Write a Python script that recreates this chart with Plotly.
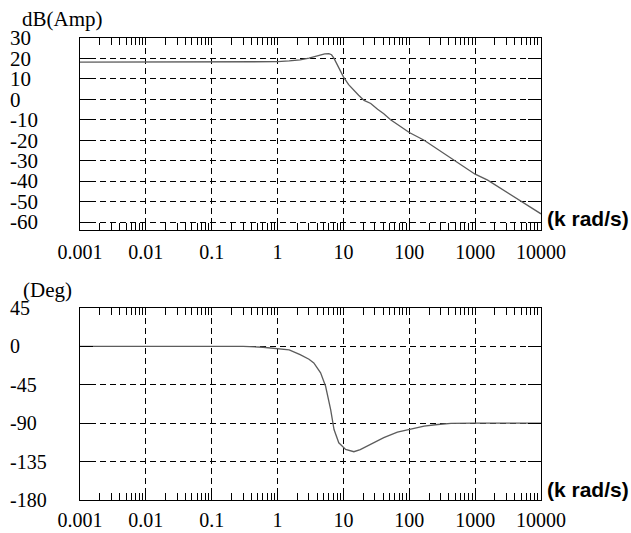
import plotly.graph_objects as go

# ---- data ----
freq_mag = [0.001, 0.01, 0.1, 0.4, 1, 1.5, 2.2, 3, 3.6, 4.5, 5.2, 6, 6.6, 7.2, 8.5,
            10, 12, 14.4, 17, 20.6, 26, 33, 41, 52, 74, 100, 168, 270, 480,
            1000, 1550, 2300, 3500, 5500, 10000]
mag_db = [18.2, 18.2, 18.2, 18.2, 18.4, 18.8, 19.3, 20.1, 20.8, 21.7, 22.2, 22.4, 21.8, 20.0, 15.5,
          11.0, 7.2, 4.3, 2.0, -0.5, -2.0, -4.8, -7.0, -10.0, -13.3, -16.2, -20.0, -24.5, -30.0,
          -36.6, -39.5, -43.0, -46.3, -50.5, -56.0]

freq_phase = [0.001, 0.01, 0.1, 0.3, 0.6, 1, 1.5, 2.2, 3, 3.55, 4.5, 5.36, 6.4, 7.2, 8.5,
              10.8, 14.4, 18, 23, 30, 41, 66, 100, 168, 270, 430, 1000, 3000, 10000]
phase_deg = [0, 0, 0, 0, -1, -2.7, -4, -9.7, -15, -19.4, -31, -46.7, -74, -97.4, -113,
             -120.7, -123.4, -121, -116.8, -112, -107, -100.5, -97.3, -93.4, -91.5, -90.3, -90, -90, -90]

x_tick_vals = [0.001, 0.01, 0.1, 1, 10, 100, 1000, 10000]
x_tick_text = ["0.001", "0.01", "0.1", "1", "10", "100", "1000", "10000"]
x_minor_vals = [m * 10.0 ** k for k in range(-3, 4) for m in range(2, 10)]

mag_tick_vals = [30, 20, 10, 0, -10, -20, -30, -40, -50, -60]
mag_tick_text = ["30", "20", "10", "0", "-10", "-20", "-30", "-40", "-50", "-60"]
phase_tick_vals = [45, 0, -45, -90, -135, -180]
phase_tick_text = ["45", "0", "-45", "-90", "-135", "-180"]

mag_range = [-63.9, 30]
phase_range = [-180, 45]

# ---- layout geometry ----
W, H = 631, 533
x_dom = [80 / W, 541 / W]
top_dom = [(H - 230) / H, (H - 38) / H]
bot_dom = [(H - 500) / H, (H - 308) / H]

SERIF = "Liberation Serif, Times New Roman, serif"
SANS = "Liberation Sans, Arial, sans-serif"
LINE = dict(color="#5c5c5c", width=1.3)

fig = go.Figure()
fig.add_trace(go.Scatter(x=freq_mag, y=mag_db, xaxis="x", yaxis="y",
                         mode="lines", line=LINE, showlegend=False))
fig.add_trace(go.Scatter(x=freq_phase, y=phase_deg, xaxis="x2", yaxis="y2",
                         mode="lines", line=LINE, showlegend=False))
# invisible companions so the label-only axes get drawn
fig.add_trace(go.Scatter(x=freq_mag, y=mag_db, xaxis="x", yaxis="y3",
                         mode="lines", opacity=0, hoverinfo="skip", showlegend=False))
fig.add_trace(go.Scatter(x=freq_phase, y=phase_deg, xaxis="x2", yaxis="y4",
                         mode="lines", opacity=0, hoverinfo="skip", showlegend=False))


def xaxis_cfg(anchor, standoff):
    return dict(
        type="log", range=[-3, 4], domain=x_dom, anchor=anchor,
        showline=True, linecolor="black", linewidth=1, mirror="ticks",
        ticks="inside", ticklen=7, tickcolor="black", tickwidth=1,
        tickmode="array", tickvals=x_tick_vals, ticktext=x_tick_text,
        tickfont=dict(family=SERIF, size=20, color="black"),
        ticklabelstandoff=standoff,
        showgrid=True, gridcolor="black", gridwidth=1, griddash="6px,4px",
        minor=dict(tickmode="array", tickvals=x_minor_vals, ticks="inside",
                   ticklen=7, tickcolor="black", tickwidth=1, showgrid=False),
        zeroline=False, automargin=False, fixedrange=True,
    )


def yaxis_cfg(anchor, dom, rng, vals):
    return dict(
        range=rng, domain=dom, anchor=anchor,
        showline=True, linecolor="black", linewidth=1, mirror="ticks",
        ticks="inside", ticklen=13, tickcolor="black", tickwidth=1,
        tickmode="array", tickvals=vals, showticklabels=False,
        showgrid=True, gridcolor="black", gridwidth=1, griddash="6px,4px",
        zeroline=False, automargin=False, fixedrange=True,
    )


def label_axis_cfg(over, rng, vals, text, size):
    return dict(
        overlaying=over, anchor="free", position=0, side="left", range=rng,
        tickmode="array", tickvals=vals, ticktext=text,
        ticklabelposition="inside", ticklabeloverflow="allow",
        ticklabelstandoff=6,
        tickfont=dict(family=SERIF, size=size, color="black"),
        showline=False, showgrid=False, ticks="", zeroline=False,
        automargin=False, fixedrange=True,
    )


fig.update_layout(
    width=W, height=H,
    margin=dict(l=0, r=0, t=0, b=0),
    paper_bgcolor="white", plot_bgcolor="white",
    xaxis=xaxis_cfg("y", 4),
    xaxis2=xaxis_cfg("y2", 2),
    yaxis=yaxis_cfg("x", top_dom, mag_range, mag_tick_vals),
    yaxis2=yaxis_cfg("x2", bot_dom, phase_range, phase_tick_vals),
    yaxis3=label_axis_cfg("y", mag_range, mag_tick_vals, mag_tick_text, 21),
    yaxis4=label_axis_cfg("y2", phase_range, phase_tick_vals, phase_tick_text, 20),
    showlegend=False,
    annotations=[
        dict(text="dB(Amp)", xref="paper", yref="paper", x=62 / W, y=(H - 19) / H,
             xanchor="center", yanchor="middle", showarrow=False,
             font=dict(family=SERIF, size=21, color="black")),
        dict(text="(Deg)", xref="paper", yref="paper", x=47 / W, y=(H - 290) / H,
             xanchor="center", yanchor="middle", showarrow=False,
             font=dict(family=SERIF, size=21, color="black")),
        dict(text="<b>(k rad/s)</b>", xref="paper", yref="paper", x=545 / W, y=(H - 218) / H,
             xanchor="left", yanchor="middle", showarrow=False,
             font=dict(family=SANS, size=21, color="black")),
        dict(text="<b>(k rad/s)</b>", xref="paper", yref="paper", x=545 / W, y=(H - 489) / H,
             xanchor="left", yanchor="middle", showarrow=False,
             font=dict(family=SANS, size=21, color="black")),
    ],
)

fig.write_html(
    "out.html",
    config=dict(displayModeBar=False),
    post_script="document.body.style.margin='0';document.body.style.overflow='hidden';",
)
